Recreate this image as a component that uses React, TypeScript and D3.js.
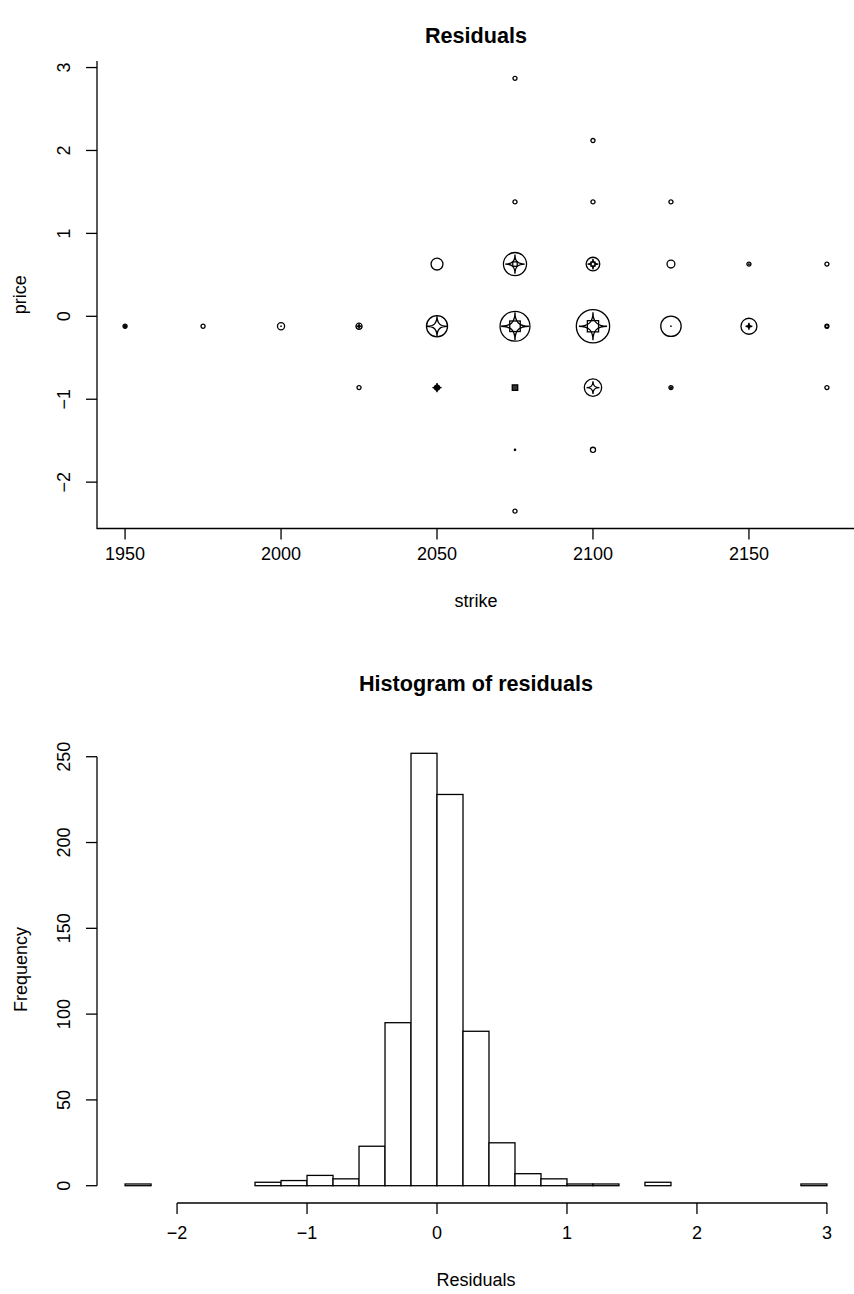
import React, { useRef, useEffect } from 'react';
import * as d3 from 'd3';

// top panel: residual symbols at (strike, price)
const strikes = [
  1950, 1975, 2000, 2025, 2025,
  2050, 2050, 2050,
  2075, 2075, 2075, 2075, 2075, 2075, 2075,
  2100, 2100, 2100, 2100, 2100, 2100,
  2125, 2125, 2125, 2125,
  2150, 2150,
  2175, 2175, 2175,
];
const prices = [
  -0.12, -0.12, -0.12, -0.12, -0.86,
  0.63, -0.12, -0.86,
  2.87, 1.38, 0.63, -0.12, -0.86, -1.61, -2.35,
  2.12, 1.38, 0.63, -0.12, -0.86, -1.61,
  1.38, 0.63, -0.12, -0.86,
  0.63, -0.12,
  0.63, -0.12, -0.86,
];
// relative symbol magnitudes (circle, star, square)
const circleSize = [
  0.12, 0.12, 0.21, 0.18, 0.12,
  0.35, 0.62, 0.15,
  0.12, 0.12, 0.68, 0.88, 0, 0.04, 0.12,
  0.12, 0.12, 0.4, 0.98, 0.51, 0.15,
  0.12, 0.23, 0.6, 0.12,
  0.12, 0.47,
  0.12, 0.12, 0.12,
];
const starSize = [
  0.1, 0, 0.04, 0.15, 0,
  0, 0.6, 0.27,
  0, 0, 0.57, 0.82, 0.12, 0, 0,
  0, 0, 0.32, 0.83, 0.38, 0,
  0, 0, 0.04, 0.08,
  0.05, 0.2,
  0, 0, 0,
];
const squareSize = [
  0, 0, 0, 0, 0,
  0, 0, 0,
  0, 0, 0.13, 0.31, 0.16, 0, 0,
  0, 0, 0.12, 0.33, 0, 0,
  0, 0, 0, 0,
  0, 0,
  0, 0.08, 0,
];

const xTicksTop = [1950, 2000, 2050, 2100, 2150];
const yTicksTop = [-2, -1, 0, 1, 2, 3];

// bottom panel: histogram of residuals
const binEdges = [
  -2.4, -2.2, -2.0, -1.8, -1.6, -1.4, -1.2, -1.0, -0.8, -0.6, -0.4, -0.2, 0,
  0.2, 0.4, 0.6, 0.8, 1.0, 1.2, 1.4, 1.6, 1.8, 2.0, 2.2, 2.4, 2.6, 2.8, 3.0,
];
const binCounts = [
  1, 0, 0, 0, 0, 2, 3, 6, 4, 23, 95, 252, 228,
  90, 25, 7, 4, 1, 1, 0, 2, 0, 0, 0, 0, 0, 1,
];
const xTicksHist = [-2, -1, 0, 1, 2, 3];
const yTicksHist = [0, 50, 100, 150, 200, 250];

const W = 854;
const H = 1294;
const FONT = '"Liberation Sans", Arial, Helvetica, sans-serif';
const fmt = (v: number) => (v < 0 ? `\u2212${Math.abs(v)}` : `${v}`);

const App: React.FC = () => {
  const svgRef = useRef<SVGSVGElement>(null);

  useEffect(() => {
    if (!svgRef.current) return;
    const svg = d3.select(svgRef.current);
    svg.selectAll('*').remove();
    svg.attr('width', W).attr('height', H).style('font-family', FONT);

    svg.append('rect').attr('width', W).attr('height', H).attr('fill', 'white');

    const lw = 1.3;

    // ---------- top panel ----------
    const x = d3.scaleLinear().domain([1941, 2184]).range([97, 855]);
    const y = d3.scaleLinear().domain([-2.559, 3.079]).range([528.5, 61]);
    const size = d3.scaleLinear().domain([0, 1]).range([0, 17]);

    const top = svg.append('g');

    // L-shaped box
    top
      .append('path')
      .attr('d', `M${x(1941)},${y(3.079)}V${y(-2.559)}H${W}`)
      .attr('fill', 'none')
      .attr('stroke', 'black')
      .attr('stroke-width', lw);

    // x axis ticks
    const tx = top.append('g');
    tx.selectAll('line')
      .data(xTicksTop)
      .enter()
      .append('line')
      .attr('x1', (d) => x(d))
      .attr('x2', (d) => x(d))
      .attr('y1', y(-2.559))
      .attr('y2', y(-2.559) + 11)
      .attr('stroke', 'black')
      .attr('stroke-width', lw);
    tx.selectAll('text')
      .data(xTicksTop)
      .enter()
      .append('text')
      .attr('x', (d) => x(d))
      .attr('y', 559.5)
      .attr('text-anchor', 'middle')
      .attr('font-size', 18)
      .text((d) => fmt(d));

    // y axis ticks
    const ty = top.append('g');
    ty.selectAll('line')
      .data(yTicksTop)
      .enter()
      .append('line')
      .attr('x1', 97)
      .attr('x2', 86)
      .attr('y1', (d) => y(d))
      .attr('y2', (d) => y(d))
      .attr('stroke', 'black')
      .attr('stroke-width', lw);
    ty.selectAll('text')
      .data(yTicksTop)
      .enter()
      .append('text')
      .attr('transform', (d) => `translate(69.5,${y(d)}) rotate(-90)`)
      .attr('text-anchor', 'middle')
      .attr('font-size', 18)
      .text((d) => fmt(d));

    top
      .append('text')
      .attr('x', 476)
      .attr('y', 43)
      .attr('text-anchor', 'middle')
      .attr('font-size', 21.6)
      .attr('font-weight', 'bold')
      .text('Residuals');
    top
      .append('text')
      .attr('x', 476)
      .attr('y', 607)
      .attr('text-anchor', 'middle')
      .attr('font-size', 18)
      .text('strike');
    top
      .append('text')
      .attr('transform', `translate(26,${y(0.26)}) rotate(-90)`)
      .attr('text-anchor', 'middle')
      .attr('font-size', 18)
      .text('price');

    // symbols
    const pts = strikes.map((s, i) => ({
      s,
      p: prices[i],
      c: size(circleSize[i]),
      st: size(starSize[i]),
      sq: size(squareSize[i]),
    }));

    // four-pointed star with concave sides
    const starPath = (r: number) => {
      const k = r * 0.3;
      return (
        `M0,${-r}C0,${-k} ${k},0 ${r},0` +
        `C${k},0 0,${k} 0,${r}` +
        `C0,${k} ${-k},0 ${-r},0` +
        `C${-k},0 0,${-k} 0,${-r}Z`
      );
    };

    const sym = top
      .selectAll('g.sym')
      .data(pts)
      .enter()
      .append('g')
      .attr('class', 'sym')
      .attr('transform', (d) => `translate(${x(d.s)},${y(d.p)})`);

    sym
      .filter((d) => d.c > 0)
      .append('circle')
      .attr('r', (d) => d.c)
      .attr('fill', 'none')
      .attr('stroke', 'black')
      .attr('stroke-width', lw);

    sym
      .filter((d) => d.st > 0)
      .append('path')
      .attr('d', (d) => starPath(d.st))
      .attr('fill', (d) => (d.st < 5 ? 'black' : 'none'))
      .attr('stroke', 'black')
      .attr('stroke-width', lw);

    sym
      .filter((d) => d.sq > 0)
      .append('rect')
      .attr('x', (d) => -d.sq)
      .attr('y', (d) => -d.sq)
      .attr('width', (d) => d.sq * 2)
      .attr('height', (d) => d.sq * 2)
      .attr('fill', (d) => (d.sq < 3 && d.c === 0 ? '#333' : 'none'))
      .attr('stroke', 'black')
      .attr('stroke-width', lw);

    // ---------- histogram ----------
    const hx = d3.scaleLinear().domain([-2.616, 3.216]).range([97, 855]);
    const hy = d3.scaleLinear().domain([-10.08, 262.08]).range([1203, 736]);
    const hist = svg.append('g');

    const bins = binCounts.map((n, i) => ({ x0: binEdges[i], x1: binEdges[i + 1], n }));
    hist
      .selectAll('rect.bar')
      .data(bins)
      .enter()
      .append('rect')
      .attr('class', 'bar')
      .attr('x', (d) => hx(d.x0))
      .attr('width', (d) => hx(d.x1) - hx(d.x0))
      .attr('y', (d) => hy(d.n))
      .attr('height', (d) => hy(0) - hy(d.n))
      .attr('fill', 'white')
      .attr('stroke', 'black')
      .attr('stroke-width', lw);

    // x axis
    hist
      .append('line')
      .attr('x1', hx(xTicksHist[0]))
      .attr('x2', hx(xTicksHist[xTicksHist.length - 1]))
      .attr('y1', 1203)
      .attr('y2', 1203)
      .attr('stroke', 'black')
      .attr('stroke-width', lw);
    hist
      .selectAll('line.xt')
      .data(xTicksHist)
      .enter()
      .append('line')
      .attr('class', 'xt')
      .attr('x1', (d) => hx(d))
      .attr('x2', (d) => hx(d))
      .attr('y1', 1203)
      .attr('y2', 1214)
      .attr('stroke', 'black')
      .attr('stroke-width', lw);
    hist
      .selectAll('text.xl')
      .data(xTicksHist)
      .enter()
      .append('text')
      .attr('class', 'xl')
      .attr('x', (d) => hx(d))
      .attr('y', 1238.5)
      .attr('text-anchor', 'middle')
      .attr('font-size', 18)
      .text((d) => fmt(d));

    // y axis
    hist
      .append('line')
      .attr('x1', 97)
      .attr('x2', 97)
      .attr('y1', hy(yTicksHist[0]))
      .attr('y2', hy(yTicksHist[yTicksHist.length - 1]))
      .attr('stroke', 'black')
      .attr('stroke-width', lw);
    hist
      .selectAll('line.yt')
      .data(yTicksHist)
      .enter()
      .append('line')
      .attr('class', 'yt')
      .attr('x1', 97)
      .attr('x2', 86)
      .attr('y1', (d) => hy(d))
      .attr('y2', (d) => hy(d))
      .attr('stroke', 'black')
      .attr('stroke-width', lw);
    hist
      .selectAll('text.yl')
      .data(yTicksHist)
      .enter()
      .append('text')
      .attr('class', 'yl')
      .attr('transform', (d) => `translate(69.5,${hy(d)}) rotate(-90)`)
      .attr('text-anchor', 'middle')
      .attr('font-size', 18)
      .text((d) => fmt(d));

    hist
      .append('text')
      .attr('x', 476)
      .attr('y', 691)
      .attr('text-anchor', 'middle')
      .attr('font-size', 21.6)
      .attr('font-weight', 'bold')
      .text('Histogram of residuals');
    hist
      .append('text')
      .attr('x', 476)
      .attr('y', 1286)
      .attr('text-anchor', 'middle')
      .attr('font-size', 18)
      .text('Residuals');
    hist
      .append('text')
      .attr('transform', `translate(27,${hy(126)}) rotate(-90)`)
      .attr('text-anchor', 'middle')
      .attr('font-size', 18)
      .text('Frequency');
  }, []);

  return (
    <div style={{ position: 'absolute', left: 0, top: 0 }}>
      <svg ref={svgRef} style={{ display: 'block' }} />
    </div>
  );
};

export default App;
